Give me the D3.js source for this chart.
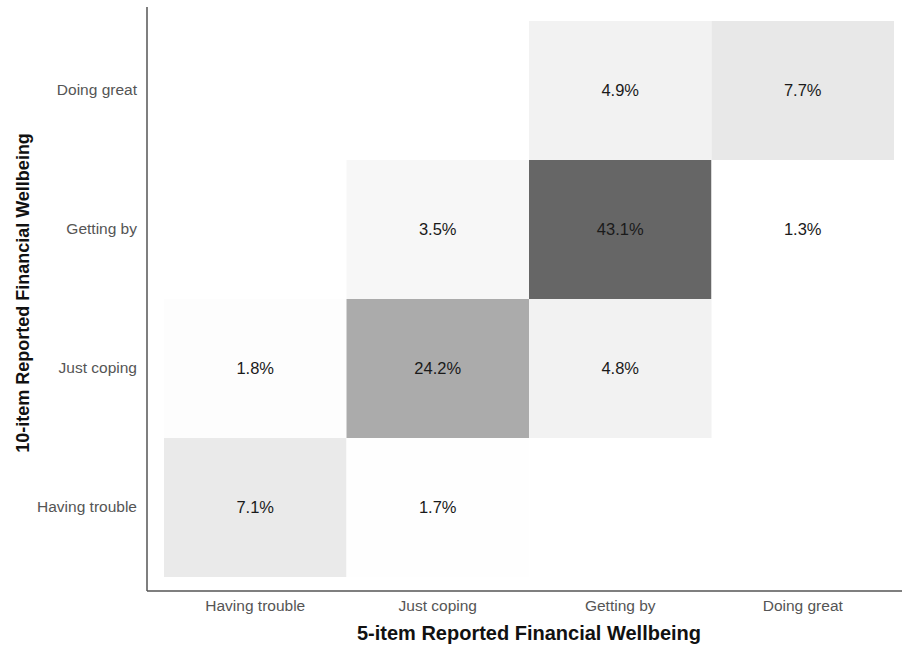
<!DOCTYPE html>
<html>
<head>
<meta charset="utf-8">
<script src="https://cdn.jsdelivr.net/npm/d3@7"></script>
<style>
  body { margin: 0; background: #fff; }
  svg { font-family: "Liberation Sans", Arial, Helvetica, sans-serif; }
</style>
</head>
<body>
<svg id="chart" width="902" height="646"></svg>
<script>
// categories (same for both axes)
const levels = ["Having trouble", "Just coping", "Getting by", "Doing great"];

// cells: 5-item (x) vs 10-item (y), percent of respondents
const xCat = ["Having trouble", "Having trouble", "Just coping", "Just coping", "Just coping",
              "Getting by", "Getting by", "Getting by", "Doing great", "Doing great"];
const yCat = ["Having trouble", "Just coping", "Having trouble", "Just coping", "Getting by",
              "Just coping", "Getting by", "Doing great", "Getting by", "Doing great"];
const pct  = [7.1, 1.8, 1.7, 24.2, 3.5, 4.8, 43.1, 4.9, 1.3, 7.7];

const cells = pct.map((v, i) => ({x: xCat[i], y: yCat[i], v: v}));

const svg = d3.select('#chart'),
    margin = {top: 7, right: 0, bottom: 55, left: 147};

const width = 902 - margin.left - margin.right,
    height = 646 - margin.top - margin.bottom;

const g = svg.append("g").attr("transform", `translate(${margin.left},${margin.top})`);

// cells start 17px in from the y axis, 14px in from top/bottom
let xScale = d3.scaleBand()
    .domain(levels)
    .range([17, 17 + 4 * 182.5]);

let yScale = d3.scaleBand()
    .domain(levels.slice().reverse())
    .range([14, height - 14]);

// lightest cell is white, biggest is dark grey
let fill = d3.scaleLinear()
    .domain(d3.extent(pct))
    .range(["#ffffff", "#666666"]);

g.selectAll("rect.cell")
    .data(cells)
    .enter()
    .append("rect")
    .attr("class", "cell")
    .attr("x", d => xScale(d.x))
    .attr("y", d => yScale(d.y))
    .attr("width", xScale.bandwidth())
    .attr("height", yScale.bandwidth())
    .style("fill", d => fill(d.v));

g.selectAll("text.lbl")
    .data(cells)
    .enter()
    .append("text")
    .attr("class", "lbl")
    .attr("x", d => xScale(d.x) + xScale.bandwidth() / 2)
    .attr("y", d => yScale(d.y) + yScale.bandwidth() / 2)
    .attr("dy", "0.36em")
    .attr("text-anchor", "middle")
    .style("font-size", "16.5px")
    .style("fill", "#1a1a1a")
    .text(d => d.v.toFixed(1) + "%");

// axes
let xAxis = d3.axisBottom(xScale).tickSize(0).tickPadding(9);
let yAxis = d3.axisLeft(yScale).tickSize(0).tickPadding(10);

let gx = g.append("g")
    .attr("class", "axis x-axis")
    .attr("transform", `translate(0,${height})`)
    .call(xAxis);

let gy = g.append("g")
    .attr("class", "axis y-axis")
    .call(yAxis);

gx.select(".domain").attr("d", `M0,0H${width}`);
gy.select(".domain").attr("d", `M0,0V${height}`);

svg.selectAll(".axis .domain")
    .style("stroke", "#555")
    .style("stroke-width", 1.5);

svg.selectAll(".axis text")
    .style("font-size", "15.5px")
    .style("fill", "#555")
    .style("font-family", "\"Liberation Sans\", Arial, sans-serif");

// titles
svg.append("text")
    .attr("x", 529)
    .attr("y", 640)
    .attr("text-anchor", "middle")
    .style("font-size", "20px")
    .style("font-weight", "bold")
    .style("fill", "#111")
    .text("5-item Reported Financial Wellbeing");

svg.append("text")
    .attr("transform", "translate(29,293) rotate(-90)")
    .attr("text-anchor", "middle")
    .style("font-size", "18px")
    .style("font-weight", "bold")
    .style("fill", "#111")
    .text("10-item Reported Financial Wellbeing");
</script>
</body>
</html>
